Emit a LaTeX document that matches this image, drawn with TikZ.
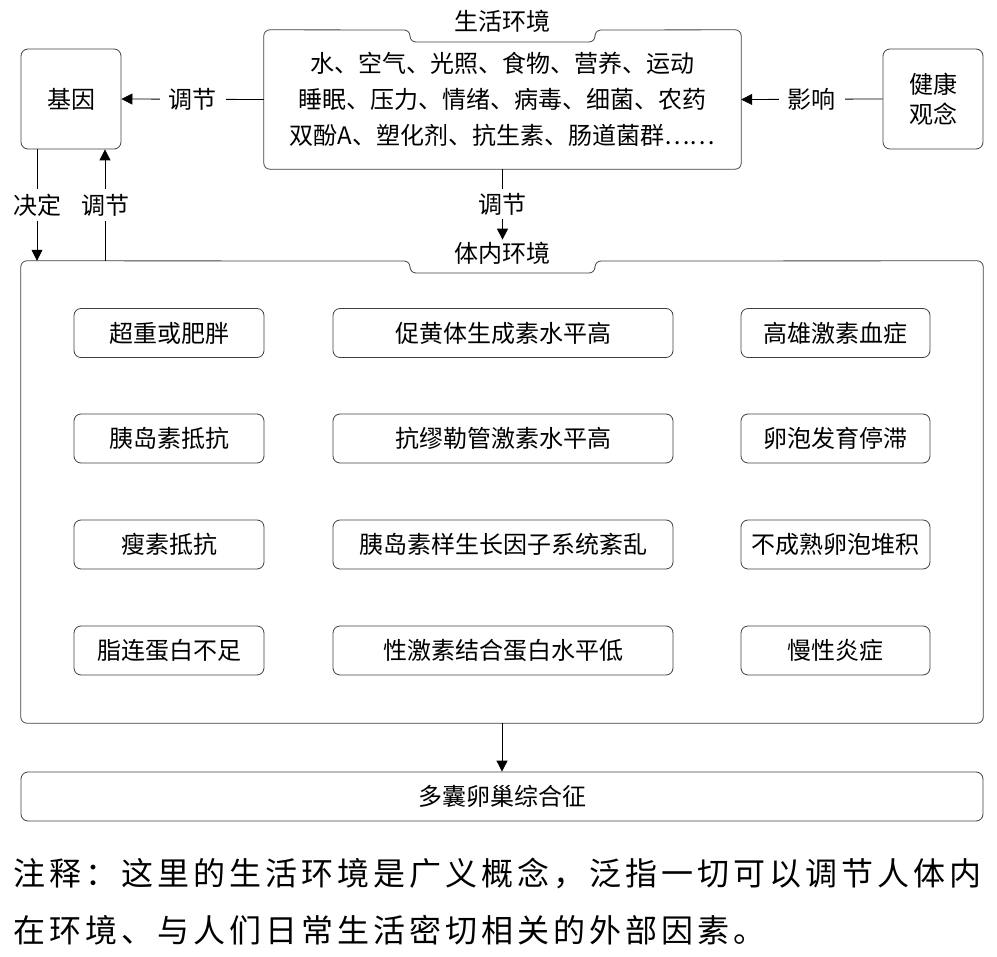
\documentclass[tikz,border=0pt]{standalone}
\usepackage{fontspec}
\setmainfont{Noto Sans CJK SC}
\newfontfamily\notefont[LetterSpace=12.5]{Noto Sans CJK SC}
\usetikzlibrary{arrows.meta}
\definecolor{bordercol}{HTML}{404040}
\begin{document}
\begin{tikzpicture}[x=1pt,y=-1pt,
  font=\fontsize{24}{36}\selectfont,
  box/.style={draw=bordercol, line width=0.8pt, rounded corners=7pt, align=center, inner sep=0pt},
  ibox/.style={box, minimum height=49pt},
  lbl/.style={fill=white, inner xsep=9pt, inner ysep=5pt},
  arr/.style={-{Triangle[length=11pt,width=11pt]}, line width=0.8pt, black}]
\useasboundingbox (0,0) rectangle (997,957);

% top row
\node[box, minimum width=100pt, minimum height=100pt] (gene) at (71,99) {基因};
\node[box, minimum width=100pt, minimum height=100pt, font=\fontsize{24}{30}\selectfont] (health) at (933,99) {健康\\观念};

% living environment box
\node[draw=none, minimum width=477pt, minimum height=139pt, inner sep=0pt] (env) at (502.5,99.5) {};
\node[align=center, inner sep=0pt] (envtext) at (502.5,99) {水、空气、光照、食物、营养、运动\\睡眠、压力、情绪、病毒、细菌、农药\\双酚A、塑化剂、抗生素、肠道菌群……};
\node[inner sep=0pt] (envtitle) at (502.5,21) {生活环境};
\draw[bordercol, line width=0.8pt, rounded corners=6pt]
  (env.south) -- (env.south west) -- (env.north west) -- (410,30) -- (410,42) -- (595,42) -- (595,30)
  -- (env.north east) -- (env.south east) -- cycle;

% body environment box
\node[draw=none, minimum width=962pt, minimum height=462pt, inner sep=0pt] (body) at (502,492) {};
\node[inner sep=2pt] (bodytitle) at (502.5,253) {体内环境};
\draw[bordercol, line width=0.8pt, rounded corners=6pt]
  (body.south) -- (body.south west) -- (body.north west) -- (410,261) -- (410,273) -- (595,273) -- (595,261)
  -- (body.north east) -- (body.south east) -- cycle;

% inner boxes
\node[ibox, minimum width=190pt] (b11) at (169,333) {超重或肥胖};
\node[ibox, minimum width=340pt] (b12) at (503,333) {促黄体生成素水平高};
\node[ibox, minimum width=189pt] (b13) at (835.5,333) {高雄激素血症};
\node[ibox, minimum width=190pt] (b21) at (169,438.5) {胰岛素抵抗};
\node[ibox, minimum width=340pt] (b22) at (503,438.5) {抗缪勒管激素水平高};
\node[ibox, minimum width=189pt] (b23) at (835.5,438.5) {卵泡发育停滞};
\node[ibox, minimum width=190pt] (b31) at (169,544.5) {瘦素抵抗};
\node[ibox, minimum width=340pt] (b32) at (503,544.5) {胰岛素样生长因子系统紊乱};
\node[ibox, minimum width=189pt] (b33) at (835.5,544.5) {不成熟卵泡堆积};
\node[ibox, minimum width=190pt] (b41) at (169,650.5) {脂连蛋白不足};
\node[ibox, minimum width=340pt] (b42) at (503,650.5) {性激素结合蛋白水平低};
\node[ibox, minimum width=189pt] (b43) at (835.5,650.5) {慢性炎症};

% outcome
\node[box, minimum width=962pt, minimum height=49pt] (pcos) at (502,796.5) {多囊卵巢综合征};

% connectors
\draw[arr] (env.west) -- node[lbl]{调节} (gene.east);
\draw[arr] (health.west) -- node[lbl]{影响} (env.east);
\draw[arr] (env.south) -- node[lbl, inner ysep=4pt]{调节} (bodytitle.north);
\coordinate (gA) at ([xshift=-34pt]gene.south);
\coordinate (gB) at ([xshift=34pt]gene.south);
\draw[arr] (gA) -- node[lbl, inner xsep=1pt]{决定} (gA |- body.north);
\draw[arr] (gB |- body.north) -- node[lbl, inner xsep=1pt]{调节} (gB);
\draw[arr] (body.south) -- (pcos.north);

% note
\node[anchor=west, inner sep=0pt, font=\notefont\fontsize{32}{36}\selectfont] (note1) at (13,873) {注释：这里的生活环境是广义概念，泛指一切可以调节人体内};
\node[anchor=west, inner sep=0pt, font=\notefont\fontsize{32}{36}\selectfont] (note2) at (13,930) {在环境、与人们日常生活密切相关的外部因素。};
\end{tikzpicture}
\end{document}
